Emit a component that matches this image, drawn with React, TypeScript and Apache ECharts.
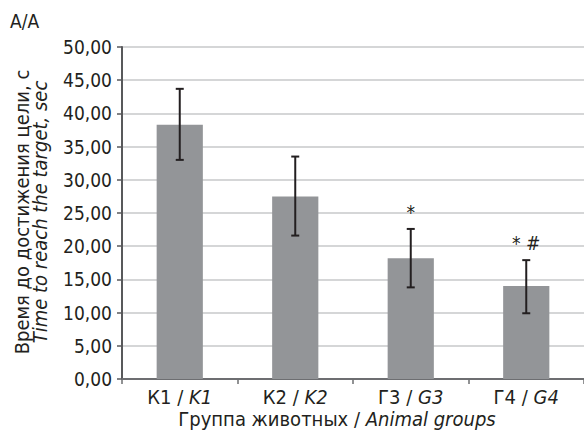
import React, { useEffect, useRef } from "react";
import * as echarts from "echarts";

const groupsRu = ["К1", "К2", "Г3", "Г4"];
const groupsEn = ["K1", "K2", "G3", "G4"];
const means = [38.3, 27.5, 18.2, 14.0];
const errLow = [33.0, 21.6, 13.8, 9.9];
const errHigh = [43.7, 33.5, 22.6, 17.9];
const marks = ["", "", "*", "* #"];
const yTicks = [0, 5, 10, 15, 20, 25, 30, 35, 40, 45, 50];

const FONT = "'Liberation Sans Narrow', 'DejaVu Sans Condensed', 'Liberation Sans', sans-serif";
const TXT = "#231f20";

export default function App() {
  const ref = useRef<HTMLDivElement>(null);
  useEffect(() => {
    if (!ref.current) return;
    const chart = echarts.init(ref.current, undefined, { renderer: "svg" });
    const categories = groupsRu.map((g, i) => `{n|${g} / }{i|${groupsEn[i]}}`);
    chart.setOption({
      animation: false,
      backgroundColor: "#ffffff",
      textStyle: { fontFamily: FONT, color: TXT },
      grid: { left: 122, right: -3, top: 47, bottom: 57, containLabel: false },
      xAxis: {
        type: "category",
        data: categories,
        axisLine: { lineStyle: { color: "#6d6e71", width: 2 } },
        axisTick: { show: true, length: 5, lineStyle: { color: "#6d6e71", width: 1.5 } },
        axisLabel: {
          interval: 0,
          margin: 8,
          fontFamily: FONT,
          fontSize: 20,
          lineHeight: 19,
          color: TXT,
          rich: {
            n: { fontFamily: FONT, fontSize: 20, lineHeight: 19, color: TXT },
            i: { fontFamily: FONT, fontSize: 20, lineHeight: 19, color: TXT, fontStyle: "italic" },
          },
        },
      },
      yAxis: {
        type: "value",
        min: yTicks[0],
        max: yTicks[yTicks.length - 1],
        interval: 5,
        axisLine: { show: true, lineStyle: { color: "#58595b", width: 2 } },
        axisTick: { show: true, length: 5, lineStyle: { color: "#58595b", width: 1.5 } },
        splitLine: { lineStyle: { color: "#c7c8ca", width: 1.5 } },
        axisLabel: {
          margin: 10,
          fontFamily: FONT,
          fontSize: 19,
          color: TXT,
          formatter: (v: number) => v.toFixed(2).replace(".", ","),
        },
      },
      graphic: [
        {
          type: "text",
          left: 10,
          top: 11,
          style: { text: "А/А", font: `19px ${FONT}`, fill: TXT },
        },
        {
          type: "text",
          x: 31,
          y: 212,
          rotation: Math.PI / 2,
          style: {
            text: "{n|Время до достижения цели, с}\n{i|Time to reach the target, sec}",
            align: "center",
            verticalAlign: "middle",
            rich: {
              n: { fontFamily: FONT, fontSize: 20, fill: TXT, lineHeight: 18 },
              i: { fontFamily: FONT, fontSize: 20, fill: TXT, fontStyle: "italic", lineHeight: 18 },
            },
          },
        },
        {
          type: "text",
          x: 337,
          y: 419,
          style: {
            text: "{n|Группа животных / }{i|Animal groups}",
            align: "center",
            verticalAlign: "middle",
            rich: {
              n: { fontFamily: FONT, fontSize: 20, lineHeight: 19, fill: TXT },
              i: { fontFamily: FONT, fontSize: 20, lineHeight: 19, fill: TXT, fontStyle: "italic" },
            },
          },
        },
      ],
      series: [
        {
          type: "bar",
          data: means,
          barWidth: "40%",
          itemStyle: { color: "#939598" },
        },
        {
          type: "custom",
          data: means.map((_, i) => [i, errLow[i], errHigh[i]]),
          renderItem: (params: any, api: any) => {
            const i = api.value(0);
            const lo = api.coord([i, api.value(1)]);
            const hi = api.coord([i, api.value(2)]);
            const cap = 4;
            const st = { stroke: "#231f20", lineWidth: 2 };
            const mark = marks[params.dataIndex];
            const children: any[] = [
              { type: "line", shape: { x1: hi[0], y1: hi[1], x2: lo[0], y2: lo[1] }, style: st },
              { type: "line", shape: { x1: hi[0] - cap, y1: hi[1], x2: hi[0] + cap, y2: hi[1] }, style: st },
              { type: "line", shape: { x1: lo[0] - cap, y1: lo[1], x2: lo[0] + cap, y2: lo[1] }, style: st },
            ];
            if (mark) {
              children.push({
                type: "text",
                x: hi[0],
                y: hi[1] - 17,
                style: {
                  text: mark,
                  align: "center",
                  verticalAlign: "middle",
                  font: `italic 19px ${FONT}`,
                  fill: TXT,
                },
              });
            }
            return { type: "group", children };
          },
          z: 10,
        },
      ],
    });
    return () => chart.dispose();
  }, []);
  return (
    <div
      ref={ref}
      style={{ position: "fixed", left: 0, top: 0, width: 584, height: 436, background: "#fff" }}
    />
  );
}
